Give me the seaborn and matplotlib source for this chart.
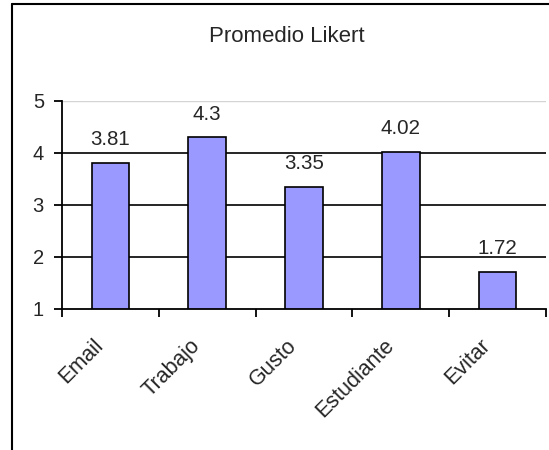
import matplotlib
matplotlib.use("Agg")
import matplotlib.pyplot as plt
import matplotlib.transforms as mtransforms
from matplotlib.lines import Line2D
import seaborn as sns
import pandas as pd

categories = ["Email", "Trabajo", "Gusto", "Estudiante", "Evitar"]
values = [3.81, 4.3, 3.35, 4.02, 1.72]
value_labels = ["3.81", "4.3", "3.35", "4.02", "1.72"]
y_ticks = [1, 2, 3, 4, 5]
title = "Promedio Likert"

sns.set_theme(style="white")
plt.rcParams["font.family"] = ["Liberation Sans", "DejaVu Sans"]

W, H = 549, 450
fig = plt.figure(figsize=(W / 100, H / 100), dpi=100)
ax = fig.add_axes([62 / W, 1 - 309 / H, (546 - 62) / W, (309 - 101) / H])

df = pd.DataFrame({"cat": categories, "val": values})
sns.barplot(data=df, x="cat", y="val", color="#9999FF", saturation=1,
            edgecolor="black", linewidth=1.2, width=0.39, ax=ax, zorder=3)

ax.set_xlim(-0.5, len(categories) - 0.5)
ax.set_ylim(1, 5)
ax.set_xlabel("")
ax.set_ylabel("")

# gridlines
for yv in y_ticks[1:-1]:
    ax.axhline(yv, color="black", linewidth=1.2, zorder=1)
ax.axhline(y_ticks[-1], color="#d4d4d4", linewidth=1.0, zorder=1)

# spines
for s in ["top", "right"]:
    ax.spines[s].set_visible(False)
for s in ["left", "bottom"]:
    ax.spines[s].set_visible(True)
    ax.spines[s].set_color("black")
    ax.spines[s].set_linewidth(1.3)
    ax.spines[s].set_zorder(4)

ax.set_yticks(y_ticks)
ax.set_yticklabels([str(t) for t in y_ticks])
ax.tick_params(axis="y", direction="out", length=6, width=1.3, color="black",
               labelsize=14.5, pad=7, left=True)

# x ticks at category boundaries, labels at centers
ax.set_xticks([i - 0.5 for i in range(len(categories) + 1)])
ax.set_xticklabels([""] * (len(categories) + 1))
ax.set_xticks(range(len(categories)), minor=True)
ax.set_xticklabels(categories, minor=True)
ax.tick_params(axis="x", which="major", direction="out", length=6, width=1.3,
               color="black", bottom=True)
ax.tick_params(axis="x", which="minor", length=0, labelsize=15.5, pad=24, bottom=True)
offset = mtransforms.ScaledTranslation(-10 / 100, 0, fig.dpi_scale_trans)
for lab in ax.get_xticklabels(minor=True):
    lab.set_rotation(45)
    lab.set_ha("right")
    lab.set_va("center")
    lab.set_rotation_mode("anchor")
    lab.set_transform(lab.get_transform() + offset)

ax.bar_label(ax.containers[0], labels=value_labels, padding=10, fontsize=14.8)

fig.text(287 / W, 1 - 42 / H, title, ha="center", va="baseline", fontsize=16)

# outer chart border (cropped at right and bottom)
fig.add_artist(Line2D([11.5 / W, 11.5 / W], [0, 1 - 3.7 / H], transform=fig.transFigure,
                      color="black", linewidth=1.5))
fig.add_artist(Line2D([11.5 / W, 1], [1 - 3.7 / H, 1 - 3.7 / H], transform=fig.transFigure,
                      color="black", linewidth=1.5))

fig.savefig("out.png", dpi=100)
